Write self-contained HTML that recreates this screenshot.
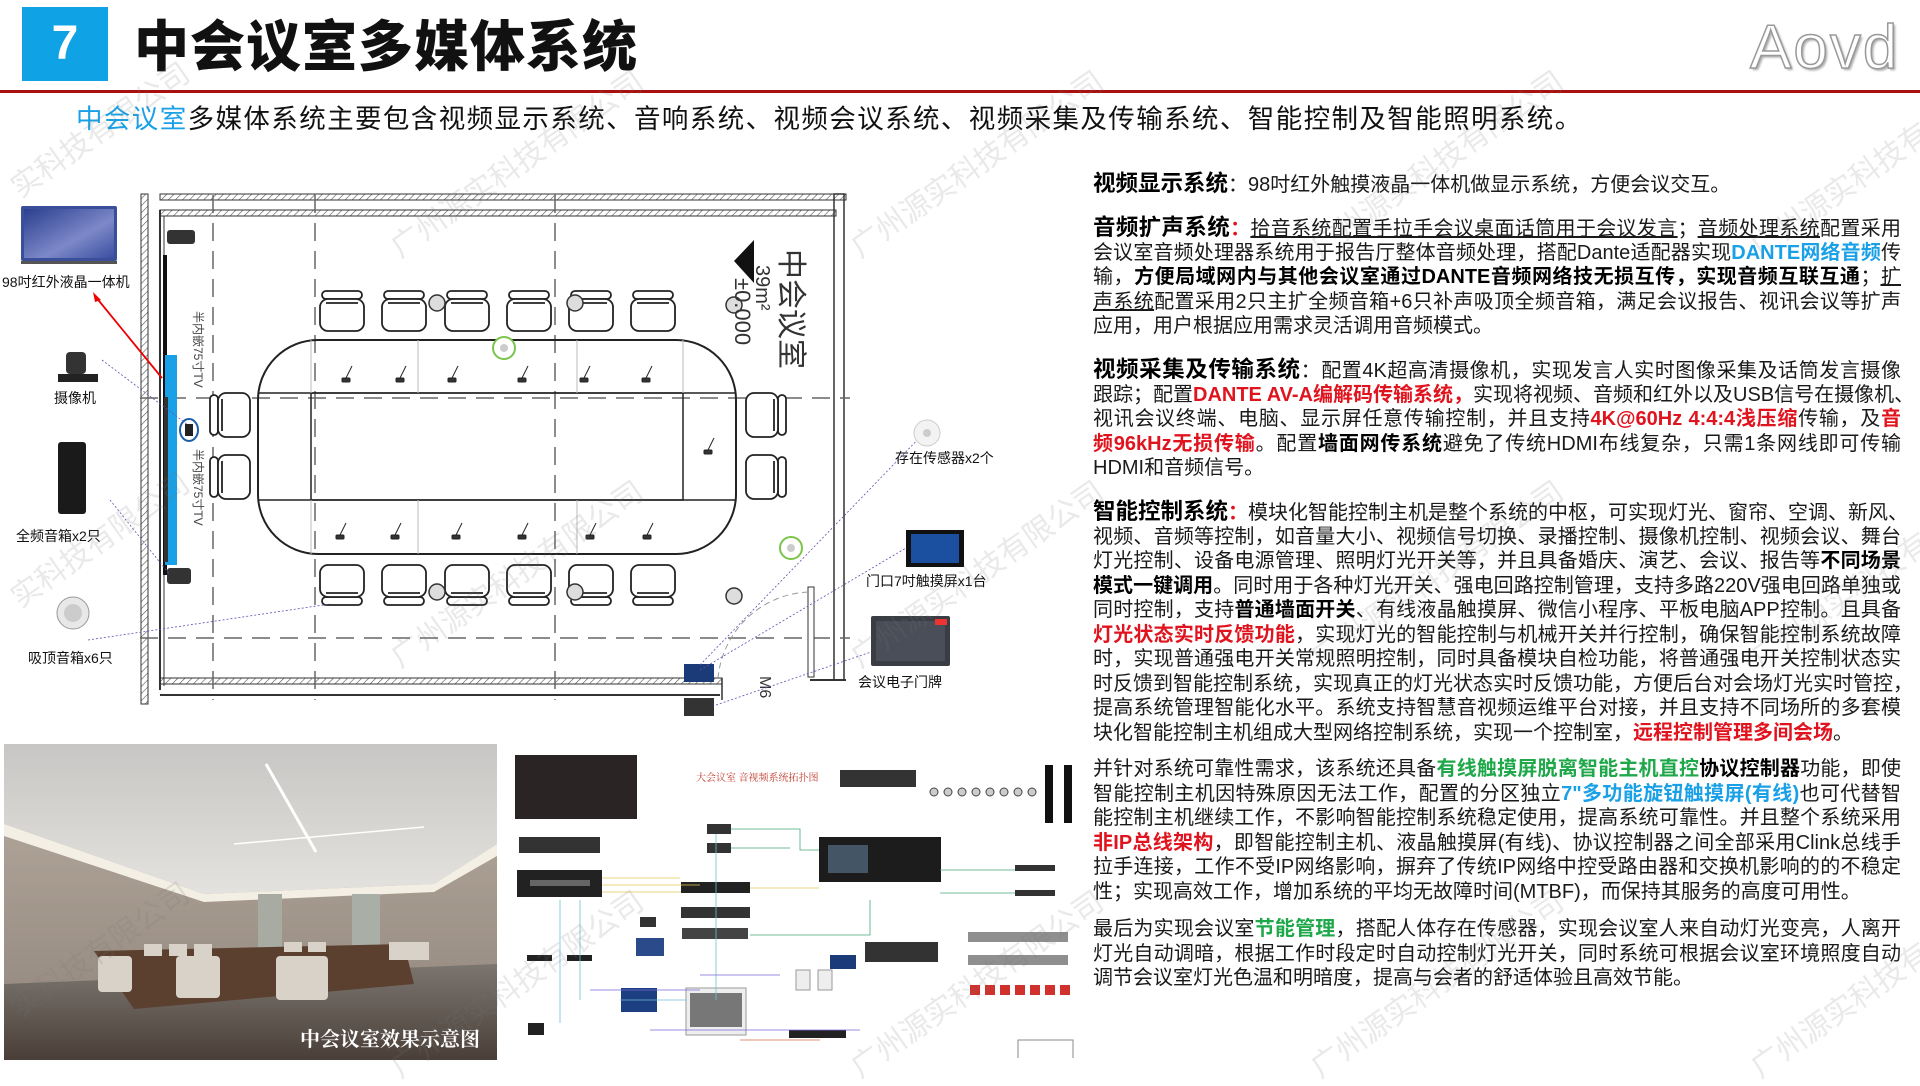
<!DOCTYPE html>
<html><head><meta charset="utf-8">
<style>
*{margin:0;padding:0;box-sizing:border-box}
body{width:1920px;height:1080px;overflow:hidden;background:#fff;position:relative;font-family:"Liberation Sans","Noto Sans CJK SC",sans-serif;color:#111}
.abs{position:absolute}
.col{position:absolute;left:1093px;width:808px;font-size:20px;line-height:24.5px;color:#1a1a1a}
.col div{white-space:nowrap;text-align:justify;text-align-last:justify;height:24.5px}
.col div.e{text-align-last:left}
.h{font-size:22.5px;font-weight:bold;color:#000}
.r{color:#e0141e;font-weight:bold}
.bl{color:#1aa0e6;font-weight:bold}
.g{color:#1fa84a;font-weight:bold}
b{font-weight:bold;color:#000}
u{text-decoration:underline}
.lab{position:absolute;font-size:14px;white-space:nowrap;color:#111}
.wm{position:absolute;font-size:30px;color:rgba(120,120,120,0.16);transform:rotate(-35deg);white-space:nowrap;transform-origin:left top}
</style></head><body>

<div class="abs" style="left:22px;top:7px;width:86px;height:74px;background:#0fa3e6;color:#fff;font-size:48px;font-weight:bold;text-align:center;line-height:74px">7</div>
<div class="abs" style="left:134px;top:10px;font-size:55px;font-weight:900;line-height:74px;letter-spacing:1px">中会议室多媒体系统</div>
<div class="abs" style="left:1750px;top:12px;font-size:62px;color:#fff;-webkit-text-stroke:1.5px #999;text-shadow:2px 2px 2px #aaa;font-family:'Liberation Sans',sans-serif;letter-spacing:2px">Aovd</div>
<div class="abs" style="left:0;top:90px;width:1920px;height:3px;background:#a81010"></div>
<div class="abs" style="left:76px;top:103px;font-size:26.5px;line-height:32px;white-space:nowrap;letter-spacing:1.4px"><span style="color:#1aa0e6">中会议室</span>多媒体系统主要包含视频显示系统、音响系统、视频会议系统、视频采集及传输系统、智能控制及智能照明系统。</div>

<!-- floor plan -->
<svg class="abs" style="left:0;top:180px" width="1080" height="540" viewBox="0 180 1080 540">
<defs><pattern id="hat" width="5" height="5" patternUnits="userSpaceOnUse" patternTransform="rotate(45)"><line x1="0" y1="0" x2="0" y2="5" stroke="#555" stroke-width="1.2"/></pattern>
<linearGradient id="scr" x1="0" y1="0" x2="1" y2="1"><stop offset="0" stop-color="#2b3f8f"/><stop offset="0.6" stop-color="#7c88c8"/><stop offset="1" stop-color="#3b4fa0"/></linearGradient></defs>
<rect x="141" y="194" width="7" height="510" fill="url(#hat)" stroke="#333"/>
<rect x="160" y="194" width="686" height="6" fill="url(#hat)" stroke="#333"/>
<rect x="160" y="210" width="676" height="6" fill="url(#hat)" stroke="#333"/>
<line x1="160" y1="210" x2="160" y2="690" stroke="#333" stroke-width="2"/>
<line x1="164" y1="216" x2="164" y2="686" stroke="#333" stroke-width="1"/>
<rect x="834" y="194" width="10" height="486" fill="none" stroke="#333" stroke-width="1.5"/>
<rect x="160" y="678" width="562" height="6" fill="url(#hat)" stroke="#333"/>
<line x1="160" y1="695" x2="720" y2="695" stroke="#333" stroke-width="2"/>
<line x1="722" y1="678" x2="722" y2="700" stroke="#333" stroke-width="1.5"/>
<line x1="810" y1="680" x2="846" y2="680" stroke="#333" stroke-width="2"/>
<g stroke="#666" stroke-width="1.5" stroke-dasharray="18,10">
<line x1="213" y1="195" x2="213" y2="700"/><line x1="315" y1="195" x2="315" y2="700"/><line x1="555" y1="195" x2="555" y2="700"/>
<line x1="140" y1="398" x2="850" y2="398"/><line x1="140" y1="638" x2="850" y2="638"/>
</g>
<rect x="163" y="255" width="4" height="320" fill="#111"/>
<rect x="165" y="355" width="12" height="210" fill="#1aa0e6"/>
<rect x="164" y="397" width="4" height="165" fill="#333"/>
<rect x="167" y="230" width="28" height="14" rx="3" fill="#333"/>
<rect x="167" y="568" width="24" height="16" rx="3" fill="#333"/>
<ellipse cx="189" cy="430" rx="9" ry="11" fill="none" stroke="#1a5fa8" stroke-width="2"/>
<rect x="185" y="424" width="8" height="12" fill="#222"/>
<text x="0" y="0" font-size="12" fill="#444" transform="translate(194,311) rotate(90)">半内嵌75寸TV</text>
<text x="0" y="0" font-size="12" fill="#444" transform="translate(194,449) rotate(90)">半内嵌75寸TV</text>
<rect x="258" y="340" width="478" height="214" rx="60" fill="none" stroke="#222" stroke-width="2"/>
<rect x="311" y="393" width="372" height="107" fill="none" stroke="#222" stroke-width="1.5"/>
<line x1="258" y1="393" x2="736" y2="393" stroke="#222" stroke-width="1.5"/>
<line x1="258" y1="500" x2="736" y2="500" stroke="#222" stroke-width="1.5"/>
<g stroke="#bbb" stroke-width="1"><line x1="418" y1="340" x2="418" y2="393"/><line x1="577" y1="340" x2="577" y2="393"/><line x1="683" y1="340" x2="683" y2="393"/>
<line x1="418" y1="500" x2="418" y2="554"/><line x1="577" y1="500" x2="577" y2="554"/><line x1="311" y1="340" x2="311" y2="393"/><line x1="311" y1="500" x2="311" y2="554"/></g>
<g fill="#fff" stroke="#222" stroke-width="1.8">
<g id="ct"><rect x="-20" y="0" width="40" height="8" rx="4"/><rect x="-22" y="8" width="44" height="32" rx="8"/><line x1="-16" y1="12" x2="16" y2="12"/></g>
</g>
<g fill="#fff" stroke="#222" stroke-width="1.8">
<use href="#ct" x="342" y="291"/><use href="#ct" x="404" y="291"/><use href="#ct" x="467" y="291"/><use href="#ct" x="529" y="291"/><use href="#ct" x="591" y="291"/><use href="#ct" x="653" y="291"/>
<g transform="translate(0,896) scale(1,-1)"><use href="#ct" x="342" y="291"/><use href="#ct" x="404" y="291"/><use href="#ct" x="467" y="291"/><use href="#ct" x="529" y="291"/><use href="#ct" x="591" y="291"/><use href="#ct" x="653" y="291"/></g>
<g transform="rotate(-90)"><use href="#ct" x="-415" y="210"/><use href="#ct" x="-477" y="210"/></g>
<g transform="rotate(90)"><use href="#ct" x="415" y="-786"/><use href="#ct" x="477" y="-786"/></g>
</g>
<g stroke="#222" stroke-width="1" fill="#333">
<g id="mic"><line x1="0" y1="0" x2="6" y2="-12"/><rect x="-4" y="0" width="8" height="4" rx="1"/></g>
<use href="#mic" x="346" y="378"/><use href="#mic" x="400" y="378"/><use href="#mic" x="452" y="378"/><use href="#mic" x="522" y="378"/><use href="#mic" x="584" y="378"/><use href="#mic" x="646" y="378"/>
<use href="#mic" x="340" y="535"/><use href="#mic" x="395" y="535"/><use href="#mic" x="456" y="535"/><use href="#mic" x="522" y="535"/><use href="#mic" x="590" y="535"/><use href="#mic" x="647" y="535"/><use href="#mic" x="708" y="450"/>
</g>
<g fill="#ddd" stroke="#333" stroke-width="1.5">
<circle cx="437" cy="303" r="8"/><circle cx="575" cy="303" r="8"/><circle cx="734" cy="305" r="8"/>
<circle cx="437" cy="592" r="8"/><circle cx="575" cy="592" r="8"/><circle cx="734" cy="596" r="8"/>
</g>
<circle cx="504" cy="348" r="11" fill="#fff" stroke="#7cc44a" stroke-width="2"/><circle cx="504" cy="348" r="4" fill="#ccc"/>
<circle cx="791" cy="548" r="11" fill="#fff" stroke="#7cc44a" stroke-width="2"/><circle cx="791" cy="548" r="4" fill="#ccc"/>
<rect x="808" y="587" width="6" height="90" fill="#fff" stroke="#333"/>
<path d="M808 592 A95 95 0 0 0 718 678" fill="none" stroke="#999" stroke-dasharray="6,4"/>
<polygon points="734,261 754,240 754,283" fill="#111"/>
<text transform="translate(781,249) rotate(90)" font-size="30" fill="#333">中会议室</text>
<text transform="translate(756,265) rotate(90)" font-size="20" fill="#333">39m²</text>
<text transform="translate(735,278) rotate(90)" font-size="22" fill="#333">±0.000</text>
<text transform="translate(760,676) rotate(90)" font-size="16" fill="#333">M6</text>
<rect x="684" y="664" width="30" height="18" fill="#1b3a78"/>
<rect x="684" y="698" width="30" height="18" fill="#333"/>
<rect x="21" y="206" width="96" height="55" rx="2" fill="#3a4e9a"/>
<rect x="24" y="209" width="90" height="49" fill="url(#scr)"/>
<rect x="21" y="261" width="96" height="3" fill="#555"/>
<rect x="66" y="352" width="20" height="22" rx="4" fill="#333"/><rect x="58" y="374" width="40" height="8" fill="#222"/>
<rect x="58" y="442" width="28" height="72" rx="3" fill="#1a1a1a"/>
<ellipse cx="73" cy="613" rx="16" ry="16" fill="#e8e8e8" stroke="#999"/><ellipse cx="73" cy="613" rx="9" ry="9" fill="#ccc"/>
<line x1="95" y1="296" x2="162" y2="378" stroke="#e00" stroke-width="1.8"/>
<polygon points="93,292 101,300 95,302" fill="#e00"/>
<g stroke="#6a4ab0" stroke-width="0.8" stroke-dasharray="2,2" fill="none">
<line x1="102" y1="360" x2="188" y2="425"/><line x1="110" y1="500" x2="170" y2="575"/><line x1="88" y1="640" x2="330" y2="604"/>
<line x1="700" y1="665" x2="925" y2="432"/><line x1="700" y1="670" x2="906" y2="548"/><line x1="716" y1="705" x2="871" y2="652"/>
</g>
<circle cx="927" cy="433" r="13" fill="#f3f3f3" stroke="#ccc"/><circle cx="927" cy="433" r="4" fill="#ccc"/>
<rect x="906" y="530" width="58" height="37" fill="#111"/><rect x="911" y="534" width="48" height="29" fill="#1b4fa0"/>
<rect x="871" y="616" width="79" height="50" rx="2" fill="#3a3d44"/><rect x="876" y="621" width="69" height="40" fill="#4a4e58"/><rect x="935" y="619" width="12" height="6" fill="#e33"/>
</svg>
<div class="lab" style="left:2px;top:272px">98吋红外液晶一体机</div>
<div class="lab" style="left:54px;top:388px">摄像机</div>
<div class="lab" style="left:16px;top:526px">全频音箱x2只</div>
<div class="lab" style="left:28px;top:648px">吸顶音箱x6只</div>
<div class="lab" style="left:895px;top:448px">存在传感器x2个</div>
<div class="lab" style="left:866px;top:571px">门口7吋触摸屏x1台</div>
<div class="lab" style="left:858px;top:672px">会议电子门牌</div>

<svg class="abs" style="left:4px;top:744px" width="493" height="316">
<defs>
<linearGradient id="ceil" x1="0" y1="0" x2="0" y2="1"><stop offset="0" stop-color="#c8c6c4"/><stop offset="1" stop-color="#e4e2de"/></linearGradient>
<linearGradient id="wall" x1="0" y1="0" x2="0" y2="1"><stop offset="0" stop-color="#b9ada2"/><stop offset="1" stop-color="#8f8479"/></linearGradient>
<linearGradient id="flr" x1="0" y1="0" x2="0" y2="1"><stop offset="0" stop-color="#7c7670"/><stop offset="1" stop-color="#4a3f38"/></linearGradient>
</defs>
<rect width="493" height="316" fill="url(#wall)"/>
<polygon points="0,0 493,0 493,100 430,140 200,150 0,80" fill="url(#ceil)"/>
<polygon points="0,80 200,150 430,140 493,100 493,112 430,148 200,158 0,92" fill="#f4efe4"/>
<line x1="262" y1="20" x2="312" y2="108" stroke="#fff" stroke-width="3"/>
<line x1="230" y1="100" x2="420" y2="83" stroke="#fff" stroke-width="1.5"/>
<rect x="254" y="150" width="24" height="60" fill="#a7aba2"/><rect x="348" y="150" width="28" height="60" fill="#a9aea6"/>
<polygon points="0,240 493,220 493,316 0,316" fill="url(#flr)"/>
<polygon points="90,207 400,200 410,240 130,265" fill="#5b4030"/>
<g fill="#d8d2c8"><rect x="94" y="212" width="34" height="36" rx="4"/><rect x="172" y="212" width="44" height="42" rx="4"/><rect x="272" y="212" width="52" height="44" rx="4"/><rect x="140" y="200" width="18" height="12"/><rect x="165" y="200" width="18" height="12"/><rect x="190" y="200" width="18" height="12"/><rect x="280" y="198" width="18" height="10"/><rect x="304" y="198" width="18" height="10"/><rect x="385" y="198" width="40" height="18"/></g>
<text x="296" y="302" font-size="20" font-weight="bold" fill="#fff" font-family="Liberation Serif,Noto Serif CJK SC,serif">中会议室效果示意图</text>
</svg>

<svg class="abs" style="left:510px;top:748px" width="570" height="310">
<g transform="translate(-510,-748)">
<rect x="515" y="755" width="122" height="64" fill="#2a2424"/>
<text x="696" y="781" font-size="10" fill="#c0392b" font-family="Liberation Serif,Noto Serif CJK SC,serif">大会议室 音视频系统拓扑图</text>
<rect x="519" y="837" width="81" height="16" fill="#333"/>
<rect x="517" y="870" width="85" height="27" fill="#222"/><rect x="530" y="880" width="60" height="6" fill="#666"/>
<rect x="707" y="824" width="24" height="10" fill="#333"/><rect x="707" y="843" width="24" height="10" fill="#333"/>
<rect x="681" y="882" width="69" height="11" fill="#222"/><rect x="681" y="907" width="69" height="11" fill="#333"/><rect x="682" y="928" width="66" height="11" fill="#444"/>
<rect x="819" y="837" width="122" height="45" fill="#1c1c1c"/><rect x="828" y="845" width="40" height="28" fill="#456"/>
<rect x="840" y="770" width="76" height="17" fill="#333"/>
<g fill="#ccc" stroke="#444"><circle cx="934" cy="792" r="4"/><circle cx="948" cy="792" r="4"/><circle cx="962" cy="792" r="4"/><circle cx="976" cy="792" r="4"/><circle cx="990" cy="792" r="4"/><circle cx="1004" cy="792" r="4"/><circle cx="1018" cy="792" r="4"/><circle cx="1032" cy="792" r="4"/></g>
<rect x="1045" y="765" width="8" height="58" fill="#111"/><rect x="1064" y="765" width="8" height="58" fill="#111"/>
<rect x="1015" y="865" width="40" height="6" fill="#333"/><rect x="1015" y="890" width="40" height="6" fill="#333"/>
<rect x="865" y="942" width="73" height="20" fill="#333"/>
<g fill="#444"><rect x="968" y="932" width="100" height="10" opacity="0.6"/><rect x="968" y="955" width="100" height="10" opacity="0.6"/></g>
<g fill="#d0312d"><rect x="970" y="985" width="10" height="10"/><rect x="985" y="985" width="10" height="10"/><rect x="1000" y="985" width="10" height="10"/><rect x="1015" y="985" width="10" height="10"/><rect x="1030" y="985" width="10" height="10"/><rect x="1045" y="985" width="10" height="10"/><rect x="1060" y="985" width="10" height="10"/></g>
<rect x="686" y="988" width="60" height="47" fill="#eee" stroke="#999"/><rect x="690" y="993" width="52" height="34" fill="#777"/>
<rect x="621" y="988" width="36" height="24" fill="#1b3f80"/>
<rect x="636" y="938" width="28" height="18" fill="#2a4a8a"/>
<rect x="640" y="917" width="16" height="10" fill="#333"/><rect x="830" y="955" width="26" height="14" fill="#1a3a7a"/>
<rect x="796" y="970" width="14" height="20" fill="#eee" stroke="#999"/><rect x="818" y="970" width="14" height="20" fill="#eee" stroke="#999"/>
<rect x="789" y="1030" width="57" height="8" fill="#222"/>
<rect x="527" y="955" width="25" height="6" fill="#222"/><rect x="567" y="955" width="25" height="6" fill="#222"/>
<rect x="528" y="1023" width="16" height="12" fill="#222"/>
<rect x="1018" y="1040" width="55" height="30" fill="none" stroke="#888"/>
<g fill="none" stroke-width="0.8">
<path d="M602 878 H680 M602 885 H700 M602 892 H681 M750 888 H819" stroke="#e8c85a"/>
<path d="M731 829 H800 V850 H819 M731 848 H790 M750 935 H870 V900 M940 870 H1015 M940 893 H1015" stroke="#4aa87a"/>
<path d="M716 834 V1000 M560 900 V1023 M580 900 V1000 M620 1000 H686" stroke="#6cc0d8"/>
<path d="M590 990 H700 M700 975 H780 M650 1030 H860" stroke="#7a6ad8"/>
<path d="M740 1040 H820" stroke="#d86a4a"/>
</g>
</g>
</svg>

<div class="col" style="top:172px">
<div class="e"><span class="h">视频显示系统</span>：98吋红外触摸液晶一体机做显示系统，方便会议交互。</div>
</div>
<div class="col" style="top:216px">
<div><span class="h">音频扩声系统</span><span class="r">：</span><u>拾音系统配置手拉手会议桌面话筒用于会议发言</u>；<u>音频处理系统</u>配置采用</div>
<div>会议室音频处理器系统用于报告厅整体音频处理，搭配Dante适配器实现<span class="bl">DANTE网络音频</span>传</div>
<div>输，<b>方便局域网内与其他会议室通过DANTE音频网络技无损互传，实现音频互联互通</b>；<u>扩</u></div>
<div><u>声系统</u>配置采用2只主扩全频音箱+6只补声吸顶全频音箱，满足会议报告、视讯会议等扩声</div>
<div class="e">应用，用户根据应用需求灵活调用音频模式。</div>
</div>
<div class="col" style="top:358px">
<div><span class="h">视频采集及传输系统</span>：配置4K超高清摄像机，实现发言人实时图像采集及话筒发言摄像</div>
<div>跟踪；配置<span class="r">DANTE AV-A编解码传输系统，</span>实现将视频、音频和红外以及USB信号在摄像机、</div>
<div>视讯会议终端、电脑、显示屏任意传输控制，并且支持<span class="r">4K@60Hz 4:4:4浅压缩</span>传输，及<span class="r">音</span></div>
<div><span class="r">频96kHz无损传输</span>。配置<b>墙面网传系统</b>避免了传统HDMI布线复杂，只需1条网线即可传输</div>
<div class="e">HDMI和音频信号。</div>
</div>
<div class="col" style="top:500px;line-height:24.2px">
<div><span class="h">智能控制系统</span><span class="r">：</span>模块化智能控制主机是整个系统的中枢，可实现灯光、窗帘、空调、新风、</div>
<div>视频、音频等控制，如音量大小、视频信号切换、录播控制、摄像机控制、视频会议、舞台</div>
<div>灯光控制、设备电源管理、照明灯光开关等，并且具备婚庆、演艺、会议、报告等<b>不同场景</b></div>
<div><b>模式一键调用</b>。同时用于各种灯光开关、强电回路控制管理，支持多路220V强电回路单独或</div>
<div>同时控制，支持<b>普通墙面开关</b>、有线液晶触摸屏、微信小程序、平板电脑APP控制。且具备</div>
<div><span class="r">灯光状态实时反馈功能</span>，实现灯光的智能控制与机械开关并行控制，确保智能控制系统故障</div>
<div>时，实现普通强电开关常规照明控制，同时具备模块自检功能，将普通强电开关控制状态实</div>
<div>时反馈到智能控制系统，实现真正的灯光状态实时反馈功能，方便后台对会场灯光实时管控，</div>
<div>提高系统管理智能化水平。系统支持智慧音视频运维平台对接，并且支持不同场所的多套模</div>
<div class="e">块化智能控制主机组成大型网络控制系统，实现一个控制室，<span class="r">远程控制管理多间会场</span>。</div>
</div>
<div class="col" style="top:757px">
<div>并针对系统可靠性需求，该系统还具备<span class="g">有线触摸屏脱离智能主机直控</span><b>协议控制器</b>功能，即使</div>
<div>智能控制主机因特殊原因无法工作，配置的分区独立<span class="bl">7"多功能旋钮触摸屏(有线)</span>也可代替智</div>
<div>能控制主机继续工作，不影响智能控制系统稳定使用，提高系统可靠性。并且整个系统采用</div>
<div><span class="r">非IP总线架构</span>，即智能控制主机、液晶触摸屏(有线)、协议控制器之间全部采用Clink总线手</div>
<div>拉手连接，工作不受IP网络影响，摒弃了传统IP网络中控受路由器和交换机影响的的不稳定</div>
<div class="e">性；实现高效工作，增加系统的平均无故障时间(MTBF)，而保持其服务的高度可用性。</div>
</div>
<div class="col" style="top:917px">
<div>最后为实现会议室<span class="g">节能管理</span>，搭配人体存在传感器，实现会议室人来自动灯光变亮，人离开</div>
<div>灯光自动调暗，根据工作时段定时自动控制灯光开关，同时系统可根据会议室环境照度自动</div>
<div class="e">调节会议室灯光色温和明暗度，提高与会者的舒适体验且高效节能。</div>
</div>

<div class="wm" style="left:0;top:170px">实科技有限公司</div>
<div class="wm" style="left:380px;top:230px">广州源实科技有限公司</div>
<div class="wm" style="left:840px;top:230px">广州源实科技有限公司</div>
<div class="wm" style="left:1300px;top:230px">广州源实科技有限公司</div>
<div class="wm" style="left:1740px;top:230px">广州源实科技有限公司</div>
<div class="wm" style="left:0;top:580px">实科技有限公司</div>
<div class="wm" style="left:380px;top:640px">广州源实科技有限公司</div>
<div class="wm" style="left:840px;top:640px">广州源实科技有限公司</div>
<div class="wm" style="left:1300px;top:640px">广州源实科技有限公司</div>
<div class="wm" style="left:1740px;top:640px">广州源实科技有限公司</div>
<div class="wm" style="left:0;top:990px">实科技有限公司</div>
<div class="wm" style="left:380px;top:1050px">广州源实科技有限公司</div>
<div class="wm" style="left:840px;top:1050px">广州源实科技有限公司</div>
<div class="wm" style="left:1300px;top:1050px">广州源实科技有限公司</div>
<div class="wm" style="left:1740px;top:1050px">广州源实科技有限公司</div>
</body></html>
